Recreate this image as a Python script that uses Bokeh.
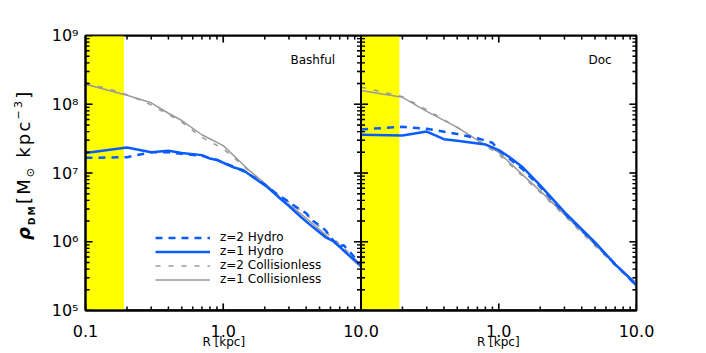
import numpy as np
from bokeh.plotting import figure
from bokeh.layouts import row
from bokeh.models import (Range1d, LogScale, FixedTicker, BoxAnnotation, Span, PolyAnnotation,
                          Label, Legend, LegendItem, Div)
from bokeh.embed import file_html
from bokeh.resources import INLINE

# ---------------- data ----------------
bash_r_coll_z1 = [0.1, 0.2, 0.3, 0.4, 0.5, 0.7, 1.0, 1.5, 2.0, 2.6, 3.0, 4.0, 5.0, 7.0, 10.0]
bash_rho_coll_z1 = [1.95e8, 1.35e8, 1.05e8, 7.4e7, 5.8e7, 3.6e7, 2.5e7, 1.15e7, 7.1e6, 4.4e6,
                    3.5e6, 2.2e6, 1.5e6, 8.3e5, 4.2e5]
bash_r_coll_z2 = [0.1, 0.15, 0.2, 0.3, 0.5, 0.7, 1.0, 1.2, 1.5, 2.0, 3.0, 4.0, 5.0, 7.0, 10.0]
bash_rho_coll_z2 = [2.05e8, 1.65e8, 1.38e8, 9.8e7, 5.5e7, 3.3e7, 2.25e7, 1.65e7, 1.12e7, 6.6e6,
                    3.8e6, 2.5e6, 1.65e6, 9.3e5, 4.6e5]
bash_r_hydro_z1 = [0.1, 0.2, 0.3, 0.4, 0.5, 0.7, 0.8, 0.9, 1.0, 1.2, 1.4, 1.7, 2.1, 2.6, 3.0,
                   3.7, 4.5, 5.5, 6.4, 8.0, 10.0]
bash_rho_hydro_z1 = [1.95e7, 2.35e7, 2.0e7, 2.1e7, 1.95e7, 1.82e7, 1.62e7, 1.55e7, 1.41e7, 1.2e7,
                     1.1e7, 8.3e6, 6.2e6, 4.2e6, 3.3e6, 2.25e6, 1.62e6, 1.17e6, 1.0e6, 6.6e5, 4.5e5]
bash_r_hydro_z2 = [0.1, 0.2, 0.3, 0.4, 0.5, 0.7, 0.9, 1.0, 1.2, 1.5, 2.0, 2.5, 3.0, 3.3, 4.0,
                   4.5, 5.5, 6.8, 7.5, 9.0, 10.0]
bash_rho_hydro_z2 = [1.66e7, 1.7e7, 2.0e7, 2.0e7, 1.9e7, 1.78e7, 1.55e7, 1.41e7, 1.23e7, 1.0e7,
                     6.8e6, 4.8e6, 3.8e6, 3.3e6, 2.6e6, 2.0e6, 1.48e6, 8.5e5, 8.9e5, 5.9e5, 5.0e5]

doc_r_coll = [0.1, 0.2, 0.3, 0.5, 0.7, 1.0, 1.5, 2.0, 3.0, 5.0, 7.0, 10.0]
doc_rho_coll_z1 = [1.58e8, 1.26e8, 7.9e7, 4.6e7, 3.0e7, 2.0e7, 9.3e6, 5.5e6, 2.5e6, 9.1e5, 4.7e5, 2.5e5]
doc_rho_coll_z2 = [1.78e8, 1.29e8, 8.3e7, 4.6e7, 2.95e7, 1.86e7, 8.9e6, 5.2e6, 2.4e6, 8.7e5, 4.5e5, 2.3e5]
doc_r_hydro_z1 = [0.1, 0.2, 0.3, 0.4, 0.5, 0.8, 1.0, 1.2, 1.5, 2.0, 3.0, 5.0, 7.0, 9.0, 10.0]
doc_rho_hydro_z1 = [3.6e7, 3.5e7, 4.0e7, 3.1e7, 2.95e7, 2.6e7, 2.15e7, 1.7e7, 1.2e7, 6.6e6,
                    2.7e6, 9.8e5, 4.7e5, 2.9e5, 2.3e5]
doc_r_hydro_z2 = [0.1, 0.2, 0.3, 0.5, 0.7, 0.9, 1.0, 1.5, 2.0, 3.0, 5.0, 7.0, 10.0]
doc_rho_hydro_z2 = [4.3e7, 4.7e7, 4.4e7, 3.7e7, 3.2e7, 2.75e7, 2.15e7, 1.12e7, 6.3e6, 2.6e6,
                    9.5e5, 4.7e5, 2.3e5]

panel_names = ["Bashful", "Doc"]
legend_labels = ["z=2 Hydro", "z=1 Hydro", "z=2 Collisionless", "z=1 Collisionless"]
x_title = "R [kpc]"
shade_edge = 0.19

x_ticks = [0.1, 1.0, 10.0, 100.0, 1000.0]
x_tick_labels = ["0.1", "1.0", "10.0", "1.0", "10.0"]
y_ticks = [1e5, 1e6, 1e7, 1e8, 1e9]
y_tick_labels = ["10\u2075", "10\u2076", "10\u2077", "10\u2078", "10\u2079"]
x_minor = [k * 10.0 ** d for d in range(-1, 3) for k in range(2, 10)]
y_minor = [k * 10.0 ** d for d in range(5, 9) for k in range(2, 10)]

BLUE = "#0a5cff"
GRAY = "#9a9a9a"
INK = "#000000"
FONT = "DejaVu Sans"

FRAME_W, FRAME_H = 551, 275
LEFT_STRIP = 40
H_TOTAL = 353

p = figure(x_axis_type="log", y_axis_type="log",
           x_range=Range1d(x_ticks[0], x_ticks[-1]), y_range=Range1d(y_ticks[0], y_ticks[-1]),
           frame_width=FRAME_W, frame_height=FRAME_H,
           min_border_left=45, min_border_right=62, min_border_top=35,
           min_border_bottom=H_TOTAL - 35 - FRAME_H,
           output_backend="svg", toolbar_location=None)
p.extra_x_ranges = {"doc": Range1d(x_ticks[0] / 100.0, x_ticks[2])}
p.extra_x_scales = {"doc": LogScale()}
p.grid.visible = False
p.outline_line_color = INK
p.outline_line_width = 2


def style_axis(ax):
    ax.axis_line_color = INK
    ax.axis_line_width = 2
    ax.major_tick_in = 0
    ax.major_tick_out = 0
    ax.minor_tick_in = 0
    ax.minor_tick_out = 0
    ax.major_label_text_font = FONT
    ax.major_label_text_font_size = "16px"
    ax.major_label_text_color = INK


xb = p.xaxis[0]
xb.ticker = FixedTicker(ticks=x_ticks, minor_ticks=x_minor)
xb.major_label_overrides = {t: s for t, s in zip(x_ticks, x_tick_labels)}
style_axis(xb)
xb.major_label_standoff = 14
# one axis title per panel: the two copies are centred under x=1 of each panel
xb.axis_label = x_title + "\u2003" * 19 + "\u00a0" + x_title
xb.axis_label_text_font = FONT
xb.axis_label_text_font_size = "12px"
xb.axis_label_text_font_style = "normal"
xb.axis_label_text_color = INK
xb.axis_label_standoff = -5

yl = p.yaxis[0]
yl.ticker = FixedTicker(ticks=y_ticks, minor_ticks=y_minor)
yl.major_label_overrides = {t: s for t, s in zip(y_ticks, y_tick_labels)}
style_axis(yl)
yl.major_label_standoff = 7
yl.major_label_text_baseline = "top"

p.add_layout(BoxAnnotation(left=x_ticks[0], right=shade_edge, fill_color="#ffff00", fill_alpha=1.0,
                           line_alpha=0, level="underlay"))
p.add_layout(BoxAnnotation(left=x_ticks[0], right=shade_edge, fill_color="#ffff00", fill_alpha=1.0,
                           line_alpha=0, level="underlay", x_range_name="doc"))

GDASH = "5 8"
BDASH = "7 6"
r_bc2 = p.line(bash_r_coll_z2, bash_rho_coll_z2, line_color=GRAY, line_width=1.5, line_dash=GDASH)
r_bc1 = p.line(bash_r_coll_z1, bash_rho_coll_z1, line_color=GRAY, line_width=1.5)
r_bh2 = p.line(bash_r_hydro_z2, bash_rho_hydro_z2, line_color=BLUE, line_width=2.5, line_dash=BDASH)
r_bh1 = p.line(bash_r_hydro_z1, bash_rho_hydro_z1, line_color=BLUE, line_width=2.5)

p.line(doc_r_coll, doc_rho_coll_z2, line_color=GRAY, line_width=1.5, line_dash=GDASH, x_range_name="doc")
p.line(doc_r_coll, doc_rho_coll_z1, line_color=GRAY, line_width=1.5, x_range_name="doc")
p.line(doc_r_hydro_z2, doc_rho_hydro_z2, line_color=BLUE, line_width=2.5, line_dash=BDASH, x_range_name="doc")
p.line(doc_r_hydro_z1, doc_rho_hydro_z1, line_color=BLUE, line_width=2.5, x_range_name="doc")

# ---------------- inward tick marks (IDL style), each edge drawn as one zig-zag path ----------------
xmin, xmax = x_ticks[0], x_ticks[-1]
ymin, ymax = y_ticks[0], y_ticks[-1]
XPD = FRAME_W / np.log10(xmax / xmin)   # pixels per decade
YPD = FRAME_H / np.log10(ymax / ymin)
MID = x_ticks[2]


def ticks_on_x_edge(positions, length, y_edge, inward):
    f = 10 ** (length / YPD)
    xs, ys = [], []
    for t in sorted(positions):
        xs += [t, t, t]
        ys += [y_edge, y_edge * f if inward > 0 else y_edge / f, y_edge]
    return xs, ys


def ticks_on_y_edge(positions, x_edge, x_tip_a, x_tip_b=None):
    xs, ys = [], []
    for t in sorted(positions):
        if x_tip_b is None:
            xs += [x_edge, x_tip_a, x_edge]
            ys += [t, t, t]
        else:
            xs += [x_edge, x_tip_a, x_tip_b, x_edge]
            ys += [t, t, t, t]
    return xs, ys


tick_paths = []
for pos, length, width in [(x_ticks, 7, 1.6), (x_minor, 4, 1.4)]:
    for y_edge, inward in [(ymin, 1), (ymax, -1)]:
        tick_paths.append(ticks_on_x_edge(pos, length, y_edge, inward) + (width,))
for pos, length, width in [(y_ticks, 7, 1.6), (y_minor, 4, 1.4)]:
    fx = 10 ** (length / XPD)
    for args in [(xmin, xmin * fx), (xmax, xmax / fx), (MID, MID / fx, MID * fx)]:
        tick_paths.append(ticks_on_y_edge(pos, *args) + (width,))

for tx, ty, width in tick_paths:
    p.line(tx, ty, line_color=INK, line_width=width)
    p.add_layout(PolyAnnotation(xs=[float(v) for v in tx], ys=[float(v) for v in ty],
                                line_color=INK, line_width=width, fill_alpha=0))

p.add_layout(Span(location=MID, dimension="height", line_color=INK, line_width=2))

legend = Legend(items=[LegendItem(label=legend_labels[0], renderers=[r_bh2]),
                       LegendItem(label=legend_labels[1], renderers=[r_bh1]),
                       LegendItem(label=legend_labels[2], renderers=[r_bc2]),
                       LegendItem(label=legend_labels[3], renderers=[r_bc1])],
                location=(70, 24), border_line_alpha=0, background_fill_alpha=0,
                label_text_font=FONT, label_text_font_size="12px", label_text_color=INK,
                glyph_width=55, glyph_height=13, label_height=13, spacing=0, padding=0, margin=0,
                label_standoff=10)
p.add_layout(legend)

p.add_layout(Label(x=205, y=244, x_units="screen", y_units="screen", text=panel_names[0],
                   text_font=FONT, text_font_size="12px", text_color=INK))
p.add_layout(Label(x=503, y=244, x_units="screen", y_units="screen", text=panel_names[1],
                   text_font=FONT, text_font_size="12px", text_color=INK))

# ---------------- left strip: rotated y-axis title (HTML, rotated with CSS) ----------------
y_title_html = (
    '<div style="transform-origin:0 0; transform:translate(15px,240px) rotate(-90deg); '
    'white-space:nowrap; font-family:\'DejaVu Sans\'; font-size:18px; line-height:18px; '
    'letter-spacing:2.2px; color:black;">'
    '<i style="font-weight:bold;">\u03c1</i>'
    '<span style="font-size:9px; font-weight:bold; vertical-align:-5px; line-height:0;">DM</span>'
    '[M<span style="font-size:11px; vertical-align:-4px; line-height:0;">\u2299</span> kpc'
    '<span style="font-size:11px; vertical-align:8px; line-height:0;">\u22123</span>]</div>'
)
ly = Div(text=y_title_html, width=LEFT_STRIP, height=H_TOTAL, margin=0)

layout = row(ly, p, spacing=0)
open("out.html", "w").write(file_html(layout, INLINE))
